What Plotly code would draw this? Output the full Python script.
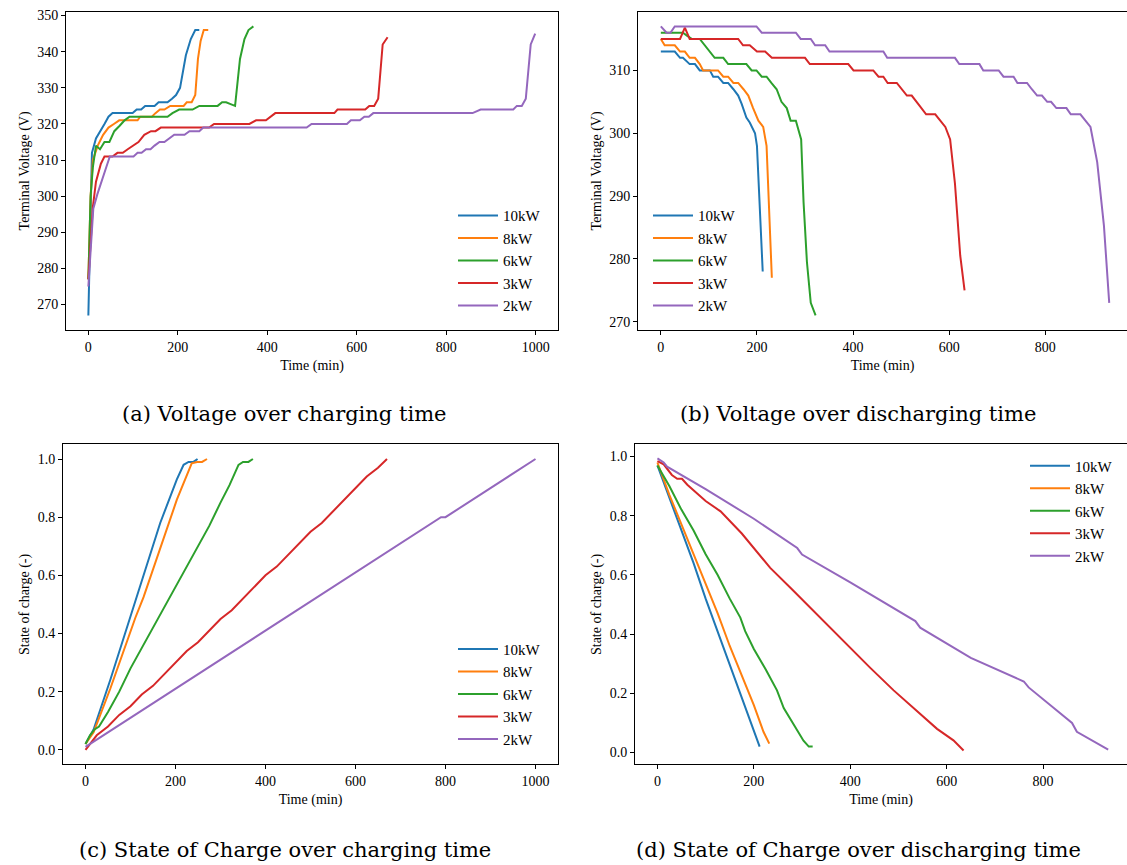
import plotly.graph_objects as go

# ---- series labels and colours ----
labels = ["10kW", "8kW", "6kW", "3kW", "2kW"]
colors = ["#1f77b4", "#ff7f0e", "#2ca02c", "#d62728", "#9467bd"]

# ---- (a) terminal voltage while charging ----
a_t_10 = [0, 8, 17, 27, 36, 45, 54, 63, 72, 81, 90, 99, 108, 118, 127, 137, 148, 157, 167, 177, 187, 196, 205, 218, 229, 239, 248]
a_v_10 = [267, 312, 316, 318, 320, 322, 323, 323, 323, 323, 323, 323, 324, 324, 325, 325, 325, 326, 326, 326, 327, 328, 330, 339, 343.5, 346, 346]
a_t_8 = [0, 5, 10, 21, 33, 45, 57, 69, 80, 90, 100, 110, 116, 130, 142, 150, 160, 170, 183, 195, 205, 213, 220, 231, 239, 245, 251, 258, 268]
a_v_8 = [277, 300, 310, 314, 317, 319, 320, 321, 321, 321, 321, 321, 322, 322, 322, 323, 324, 324, 325, 325, 325, 325, 326, 326, 328, 338, 343, 346, 346]
a_t_6 = [0, 5, 10, 17, 26, 36, 47, 58, 70, 81, 92, 103, 114, 125, 136, 147, 158, 169, 177, 188, 203, 218, 233, 248, 260, 275, 289, 299, 308, 318, 328, 339, 349, 358, 369]
a_v_6 = [277, 300, 308, 314, 313, 315, 315, 318, 319.5, 321, 322, 322, 322, 322, 322, 322, 322, 322, 322, 323, 324, 324, 324, 325, 325, 325, 325, 326, 326, 325.5, 325, 338, 343.5, 346, 347]
a_t_3 = [0, 10, 17, 28, 36, 54, 65, 77, 88, 99, 112, 125, 140, 150, 162, 190, 220, 250, 270, 281, 300, 330, 360, 375, 397, 418, 440, 480, 520, 550, 557, 580, 600, 619, 628, 639, 648, 658, 669]
a_v_3 = [277, 297, 304, 309, 311, 311, 312, 312, 313, 314, 315, 317, 318, 318, 319, 319, 319, 319, 319, 320, 320, 320, 320, 321, 321, 323, 323, 323, 323, 323, 324, 324, 324, 324, 325, 325, 327, 342, 344]
a_t_2 = [0, 11, 20, 30, 40, 48, 56, 70, 85, 101, 110, 119, 129, 139, 148, 159, 170, 181, 192, 205, 215, 226, 237, 248, 257, 300, 350, 400, 450, 488, 499, 540, 578, 587, 607, 617, 627, 637, 700, 750, 800, 859, 877, 920, 950, 958, 969, 978, 989, 999]
a_v_2 = [275, 296.5, 300.5, 304, 308, 311, 311, 311, 311, 311, 312, 312, 313, 313, 314, 315, 315, 316, 317, 317, 317, 318, 318, 318, 319, 319, 319, 319, 319, 319, 320, 320, 320, 321, 321, 322, 322, 323, 323, 323, 323, 323, 324, 324, 324, 325, 325, 327, 342, 345]

# ---- (b) terminal voltage while discharging ----
b_t_10 = [0, 10, 20, 29, 40, 46, 60, 71, 81, 92, 102, 109, 119, 130, 140, 151, 161, 168, 178, 185, 196, 200, 212]
b_v_10 = [313, 313, 313, 313, 312, 312, 311, 311, 310, 310, 310, 309, 309, 308, 308, 307, 306, 304.7, 302.5, 301.7, 300, 298, 278]
b_t_8 = [0, 8, 18, 29, 40, 50, 60, 71, 81, 88, 100, 110, 119, 130, 140, 151, 161, 172, 182, 192, 203, 213, 220, 231]
b_v_8 = [315, 314, 314, 314, 313, 313, 312, 312, 311, 310, 310, 310, 310, 309, 309, 308, 308, 307, 306, 304, 302, 301, 298, 277]
b_t_6 = [0, 15, 30, 46, 55, 65, 81, 96, 112, 120, 130, 140, 150, 160, 170, 178, 189, 199, 210, 220, 230, 241, 251, 262, 270, 281, 292, 297, 304, 312, 322]
b_v_6 = [316, 316, 316, 316, 315.5, 315, 315, 313.5, 312, 312, 312, 311, 311, 311, 311, 311, 310, 310, 309, 309, 308, 307, 305, 304, 302, 302, 299, 289, 279.5, 273, 271]
b_t_3 = [0, 20, 40, 50, 60, 80, 100, 120, 140, 161, 171, 185, 200, 217, 231, 260, 300, 310, 350, 390, 401, 442, 453, 463, 472, 491, 512, 522, 537, 552, 571, 582, 592, 602, 612, 623, 632]
b_v_3 = [315, 315, 315, 316.8, 315, 315, 315, 315, 315, 315, 314, 314, 313, 313, 312, 312, 312, 311, 311, 311, 310, 310, 309, 309, 308, 308, 306, 306, 304.5, 303, 303, 302, 301, 299, 292, 280.5, 275]
b_t_2 = [0, 12, 20, 29, 60, 100, 150, 199, 210, 240, 281, 291, 312, 321, 342, 351, 400, 463, 471, 520, 570, 612, 621, 663, 671, 703, 713, 734, 742, 762, 772, 783, 793, 804, 812, 823, 844, 853, 873, 894, 908, 922, 933]
b_v_2 = [317, 316, 316, 317, 317, 317, 317, 317, 316, 316, 316, 315, 315, 314, 314, 313, 313, 313, 312, 312, 312, 312, 311, 311, 310, 310, 309, 309, 308, 308, 307, 306, 306, 305, 305, 304, 304, 303, 303, 301, 295.4, 285.3, 273]

# ---- (c) state of charge while charging ----
c_t_10 = [0, 18, 55, 92, 129, 166, 203, 218, 229, 240, 249]
c_s_10 = [0.02, 0.07, 0.24, 0.42, 0.60, 0.78, 0.93, 0.98, 0.99, 0.99, 1.0]
c_t_8 = [0, 18, 55, 92, 111, 129, 166, 203, 236, 248, 259, 270]
c_s_8 = [0.02, 0.06, 0.21, 0.375, 0.455, 0.525, 0.69, 0.86, 0.985, 0.99, 0.99, 1.0]
c_t_6 = [0, 10, 20, 30, 50, 75, 100, 125, 150, 175, 200, 225, 250, 275, 300, 320, 340, 350, 362, 372]
c_s_6 = [0.02, 0.05, 0.07, 0.08, 0.13, 0.20, 0.28, 0.35, 0.42, 0.49, 0.56, 0.63, 0.70, 0.77, 0.85, 0.91, 0.98, 0.99, 0.99, 1.0]
c_t_3 = [0, 25, 50, 75, 100, 125, 150, 175, 200, 225, 250, 275, 300, 325, 350, 375, 400, 425, 450, 475, 500, 525, 550, 575, 600, 625, 650, 670]
c_s_3 = [0.0, 0.05, 0.08, 0.12, 0.15, 0.19, 0.22, 0.26, 0.30, 0.34, 0.37, 0.41, 0.45, 0.48, 0.52, 0.56, 0.60, 0.63, 0.67, 0.71, 0.75, 0.78, 0.82, 0.86, 0.90, 0.94, 0.97, 1.0]
c_t_2 = [0, 100, 200, 300, 400, 500, 600, 700, 790, 800, 900, 1000]
c_s_2 = [0.01, 0.11, 0.21, 0.31, 0.41, 0.51, 0.61, 0.71, 0.80, 0.80, 0.90, 1.0]

# ---- (d) state of charge while discharging ----
d_t_10 = [0, 25, 50, 75, 100, 125, 150, 175, 200, 212]
d_s_10 = [0.97, 0.86, 0.75, 0.64, 0.52, 0.41, 0.30, 0.19, 0.08, 0.02]
d_t_8 = [0, 25, 50, 75, 100, 125, 150, 175, 200, 220, 232]
d_s_8 = [0.98, 0.87, 0.77, 0.67, 0.57, 0.47, 0.36, 0.26, 0.16, 0.07, 0.03]
d_t_6 = [0, 25, 50, 75, 100, 125, 150, 172, 182, 200, 225, 248, 262, 280, 303, 314, 322]
d_s_6 = [0.97, 0.90, 0.82, 0.75, 0.67, 0.60, 0.52, 0.456, 0.41, 0.35, 0.28, 0.21, 0.15, 0.10, 0.04, 0.02, 0.02]
d_t_3 = [0, 13, 30, 41, 51, 62, 100, 131, 175, 234, 280, 338, 390, 441, 490, 545, 580, 614, 628, 635]
d_s_3 = [0.985, 0.974, 0.938, 0.925, 0.925, 0.905, 0.85, 0.815, 0.74, 0.624, 0.55, 0.455, 0.37, 0.287, 0.21, 0.13, 0.08, 0.041, 0.018, 0.007]
d_t_2 = [0, 13, 20, 100, 200, 290, 300, 400, 535, 545, 650, 760, 770, 860, 870, 935]
d_s_2 = [0.994, 0.98, 0.966, 0.89, 0.79, 0.691, 0.669, 0.575, 0.444, 0.422, 0.32, 0.24, 0.22, 0.10, 0.07, 0.01]

panel_a = [(a_t_10, a_v_10), (a_t_8, a_v_8), (a_t_6, a_v_6), (a_t_3, a_v_3), (a_t_2, a_v_2)]
panel_b = [(b_t_10, b_v_10), (b_t_8, b_v_8), (b_t_6, b_v_6), (b_t_3, b_v_3), (b_t_2, b_v_2)]
panel_c = [(c_t_10, c_s_10), (c_t_8, c_s_8), (c_t_6, c_s_6), (c_t_3, c_s_3), (c_t_2, c_s_2)]
panel_d = [(d_t_10, d_s_10), (d_t_8, d_s_8), (d_t_6, d_s_6), (d_t_3, d_s_3), (d_t_2, d_s_2)]

W, H = 1127, 865
SERIF = "Liberation Serif"
CAPTION = "DejaVu Serif"


def px_x(p):
    return p / W


def px_y(p):
    return 1 - p / H


fig = go.Figure()

panels = [
    # data, axis suffix, legend id, x-domain px, y-domain px, x-range, y-range, y-ticks, y-title
    (panel_a, "", "legend", (66, 558), (9, 328), [-50, 1050], [263, 351],
     [270, 280, 290, 300, 310, 320, 330, 340, 350], "Terminal Voltage (V)"),
    (panel_b, "2", "legend2", (638, 1127), (9, 328), [-47.5, 970], [268.7, 319.3],
     [270, 280, 290, 300, 310], "Terminal Voltage (V)"),
    (panel_c, "3", "legend3", (63, 558), (443, 764), [-50, 1050], [-0.05, 1.05],
     [0.0, 0.2, 0.4, 0.6, 0.8, 1.0], "State of charge (-)"),
    (panel_d, "4", "legend4", (635, 1127), (443, 764), [-46.5, 974], [-0.040, 1.041],
     [0.0, 0.2, 0.4, 0.6, 0.8, 1.0], "State of charge (-)"),
]

layout_axes = {}
for k, (data, sfx, leg, xd, yd, xr, yr, yt, ytitle) in enumerate(panels):
    for i, (t, v) in enumerate(data):
        fig.add_trace(go.Scatter(
            x=t, y=v, mode="lines", name=labels[i],
            line=dict(color=colors[i], width=2),
            xaxis="x" + sfx, yaxis="y" + sfx,
            legend=leg, legendgroup=f"{leg}_{i}",
        ))
    right_edge = xd[1] >= W
    xticks = [0, 200, 400, 600, 800, 1000] if xr[1] > 1000 else [0, 200, 400, 600, 800]
    layout_axes["xaxis" + sfx] = dict(
        domain=[px_x(xd[0]), px_x(xd[1])], range=xr, anchor="y" + sfx,
        tickvals=xticks, ticks="outside", ticklen=4, tickwidth=1, tickcolor="black",
        showline=True, linecolor="black", linewidth=1, mirror=True,
        showgrid=False, zeroline=False,
        tickfont=dict(family=SERIF, size=14, color="black"),
        title=dict(text="Time (min)", font=dict(family=SERIF, size=14, color="black"), standoff=6),
    )
    layout_axes["yaxis" + sfx] = dict(
        domain=[px_y(yd[1]), px_y(yd[0])], range=yr, anchor="x" + sfx,
        tickvals=yt, tickformat=".1f" if yr[1] < 2 else "d",
        ticks="outside", ticklen=4, tickwidth=1, tickcolor="black",
        showline=True, linecolor="black", linewidth=1, mirror=False if right_edge else True,
        showgrid=False, zeroline=False,
        tickfont=dict(family=SERIF, size=14, color="black"),
        title=dict(text=ytitle, font=dict(family=SERIF, size=14, color="black"), standoff=4),
    )

fig.update_layout(**layout_axes)

legend_common = dict(
    font=dict(family=SERIF, size=15, color="black"),
    bgcolor="rgba(255,255,255,0)", borderwidth=0,
    xanchor="left", yanchor="top", tracegroupgap=0, itemwidth=40,
)
fig.update_layout(
    legend=dict(x=px_x(453), y=px_y(197), **legend_common),
    legend2=dict(x=px_x(648), y=px_y(197), **legend_common),
    legend3=dict(x=px_x(453), y=px_y(632), **legend_common),
    legend4=dict(x=px_x(1025), y=px_y(448), **legend_common),
)

captions = [
    ("(a) Voltage over charging time", 284, 412),
    ("(b) Voltage over discharging time", 858, 412),
    ("(c) State of Charge over charging time", 285, 850),
    ("(d) State of Charge over discharging time", 858, 850),
]
for text, cx, cy in captions:
    fig.add_annotation(
        text=text, xref="paper", yref="paper", x=px_x(cx), y=px_y(cy),
        xanchor="center", yanchor="middle", showarrow=False,
        font=dict(family=CAPTION, size=21, color="black"),
    )

fig.update_layout(
    width=W, height=H, margin=dict(l=0, r=0, t=0, b=0),
    paper_bgcolor="white", plot_bgcolor="white", showlegend=True,
)

fig.write_html("out.html")
